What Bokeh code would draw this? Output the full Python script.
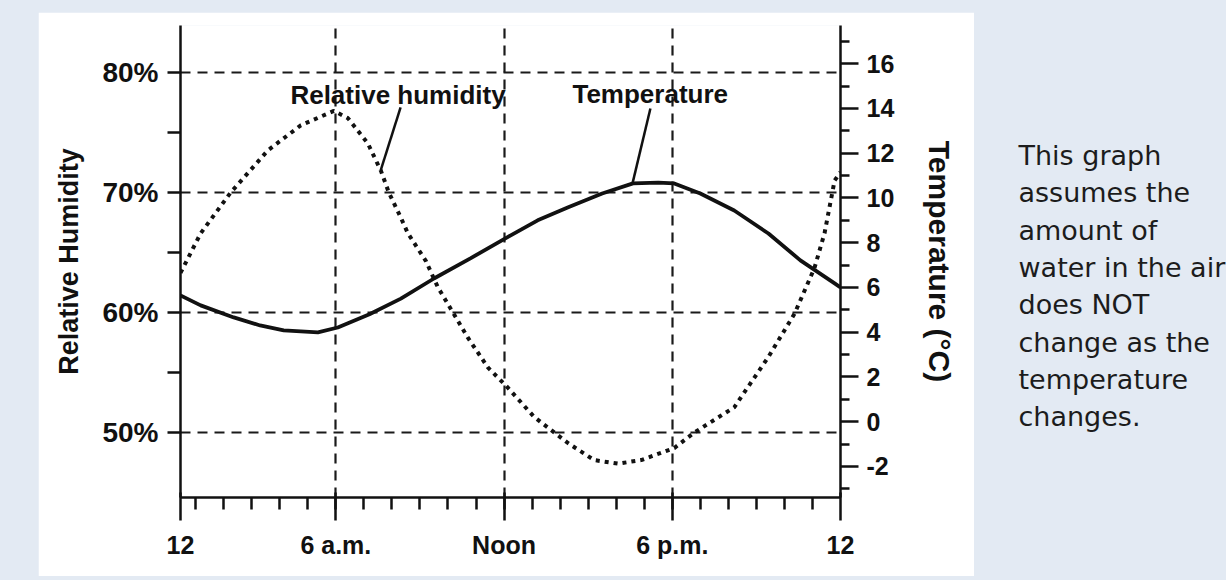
import numpy as np
from bokeh.plotting import figure
from bokeh.models import Range1d, LinearAxis, FixedTicker, PrintfTickFormatter, Label, Grid
from bokeh.layouts import row
from bokeh.embed import file_html
from bokeh.resources import INLINE
from bokeh.core.properties import value

# ---------------- data ----------------
rh_hours = [0.46, 1.18, 2.25, 3.57, 4.75, 5.93, 6.43, 7.14, 7.61, 7.89, 8.32, 8.57, 9.21,
            9.64, 10.71, 11.43, 12.11, 13.07, 14.29, 15.21, 16.07, 16.89, 18.07, 18.79,
            20.21, 21.43, 22.36, 23.07, 23.43, 23.79, 24.0]
rh_values = [63.3, 66.6, 70.0, 73.5, 75.6, 76.8, 76.2, 74.1, 71.8, 70.0, 67.9, 66.6, 64.3,
             62.1, 57.9, 55.4, 53.8, 51.3, 49.1, 47.7, 47.4, 47.7, 48.7, 50.0,
             52.1, 56.3, 59.9, 63.7, 66.6, 71.0, 71.7]

temp_hours = [0.46, 1.18, 2.36, 3.3, 4.14, 5.36, 6.07, 7.2, 8.32, 9.5, 10.8, 12.11, 13.2,
              14.29, 15.5, 16.6, 17.5, 18.07, 19.0, 20.21, 21.43, 22.57, 23.79, 24.0]
temp_values = [5.64, 5.20, 4.66, 4.30, 4.08, 3.99, 4.21, 4.80, 5.50, 6.40, 7.30, 8.24, 9.00,
               9.58, 10.20, 10.65, 10.69, 10.65, 10.20, 9.44, 8.41, 7.21, 6.18, 6.00]

x_tick_hours = [0, 6, 12, 18, 24]
x_tick_labels = ["12", "6 a.m.", "Noon", "6 p.m.", "12"]
x_minor_hours = list(range(1, 24))
rh_ticks = [50, 60, 70, 80]
rh_minor = [55, 65, 75]
temp_ticks = [-2, 0, 2, 4, 6, 8, 10, 12, 14, 16]
temp_minor = [-3, -1, 1, 3, 5, 7, 9, 11, 13, 15, 17]
note_lines = ["This graph", "assumes the", "amount of", "water in the air",
              "does NOT", "change as the", "temperature", "changes."]

# ---------------- styling ----------------
BLUE = "#e3eaf3"
INK = "#111111"
FONT = "Liberation Sans"
MARGIN_T, MARGIN_B = 12, 4
BORDER_T, BORDER_B = 13, 79
FIG_H = 564

X0, X1 = 0.46, 24.0
p = figure(width=936, height=FIG_H, x_range=Range1d(X0, X1), y_range=Range1d(44.58, 83.92),
           output_backend="svg", toolbar_location=None, x_axis_type=None, y_axis_type=None,
           min_border_left=142, min_border_right=134,
           min_border_top=BORDER_T, min_border_bottom=BORDER_B)
p.margin = (MARGIN_T, 0, MARGIN_B, 38)
p.background_fill_color = "white"
p.border_fill_color = "white"
p.outline_line_color = None
p.extra_y_ranges = {"temp": Range1d(-3.39, 17.71)}

# dashed grid
for dim, ticks in ((0, [6, 12, 18]), (1, rh_ticks)):
    g = Grid(dimension=dim, ticker=FixedTicker(ticks=ticks))
    g.grid_line_color = "#1a1a1a"
    g.grid_line_dash = "10 7"
    g.grid_line_width = 2.2
    p.add_layout(g)

def style_axis(ax, fs):
    ax.axis_line_color = INK
    ax.axis_line_width = 2.5
    ax.major_tick_line_color = INK
    ax.major_tick_line_width = 2.5
    ax.minor_tick_line_color = INK
    ax.minor_tick_line_width = 2.5
    ax.major_label_text_font = FONT
    ax.major_label_text_font_style = "bold"
    ax.major_label_text_font_size = fs
    ax.major_label_text_color = INK
    ax.axis_label_text_font = FONT
    ax.axis_label_text_font_style = "bold"
    ax.axis_label_text_color = INK

# bottom axis
x_pos = [float(max(h, X0)) for h in x_tick_hours]
xaxis = LinearAxis(ticker=FixedTicker(ticks=x_pos, minor_ticks=x_minor_hours),
                   major_label_overrides={pos: lab for pos, lab in zip(x_pos, x_tick_labels)})
style_axis(xaxis, "25px")
xaxis.major_tick_out = 23
xaxis.major_tick_in = 5
xaxis.minor_tick_out = 12
xaxis.minor_tick_in = 0
xaxis.major_label_standoff = 10
p.add_layout(xaxis, "below")

# left axis (relative humidity)
yaxis = LinearAxis(ticker=FixedTicker(ticks=rh_ticks, minor_ticks=rh_minor),
                   formatter=PrintfTickFormatter(format="%d%%"),
                   axis_label="Relative Humidity")
style_axis(yaxis, "28px")
yaxis.major_tick_out = 13
yaxis.major_tick_in = 0
yaxis.minor_tick_out = 13
yaxis.minor_tick_in = 0
yaxis.major_label_standoff = 9
yaxis.axis_label_standoff = 15
yaxis.axis_label_text_font_size = "27px"
p.add_layout(yaxis, "left")

# right axis (temperature)
taxis = LinearAxis(y_range_name="temp",
                   ticker=FixedTicker(ticks=temp_ticks, minor_ticks=temp_minor),
                   formatter=PrintfTickFormatter(format="%d"),
                   axis_label="Temperature (°C)")
style_axis(taxis, "25px")
taxis.major_tick_out = 18
taxis.major_tick_in = 0
taxis.minor_tick_out = 9
taxis.minor_tick_in = 0
taxis.major_label_standoff = 8
taxis.axis_label_standoff = 26
taxis.axis_label_text_font_size = "30px"
p.add_layout(taxis, "right")

# curves
p.line(rh_hours, rh_values, line_color=INK, line_width=4, line_dash="4 5")
p.line(temp_hours, temp_values, y_range_name="temp", line_color=INK, line_width=3.8)

# leader lines anchored on the curves
rh_anchor = 7.6
t_anchor = 16.58
p.segment(x0=[8.31], y0=[77.09], x1=[rh_anchor], y1=[float(np.interp(rh_anchor, rh_hours, rh_values))],
          line_color=INK, line_width=2.5)
p.segment(x0=[17.22], y0=[14.0], x1=[t_anchor], y1=[float(np.interp(t_anchor, temp_hours, temp_values))],
          line_color=INK, line_width=2.5, y_range_name="temp")

for txt_, hx, yy in (("Relative humidity", 4.38, 78.1), ("Temperature", 14.44, 78.2)):
    p.add_layout(Label(x=hx, y=yy, text=txt_, text_font=FONT, text_font_style="bold",
                       text_font_size="26px", text_color=INK, text_baseline="middle"))

# side note: same margins/borders as the chart, so its frame spans page y 25..497
note = figure(width=252, height=FIG_H, x_range=Range1d(0, 252), y_range=Range1d(497, 25),
              output_backend="svg", toolbar_location=None, x_axis_type=None, y_axis_type=None,
              min_border_left=0, min_border_right=0,
              min_border_top=BORDER_T, min_border_bottom=BORDER_B)
note.margin = (MARGIN_T, 0, MARGIN_B, 0)
note.background_fill_color = BLUE
note.border_fill_color = BLUE
note.outline_line_color = None
note.text(x=[44] * len(note_lines), y=[155 + 37.3 * i for i in range(len(note_lines))],
          text=note_lines, text_font=value("DejaVu Sans"), text_font_size="27px",
          text_color="#1c1c1c", text_baseline="middle", text_align="left")

layout = row(p, note, styles={"background-color": BLUE})
open("out.html", "w").write(file_html(layout, INLINE))
